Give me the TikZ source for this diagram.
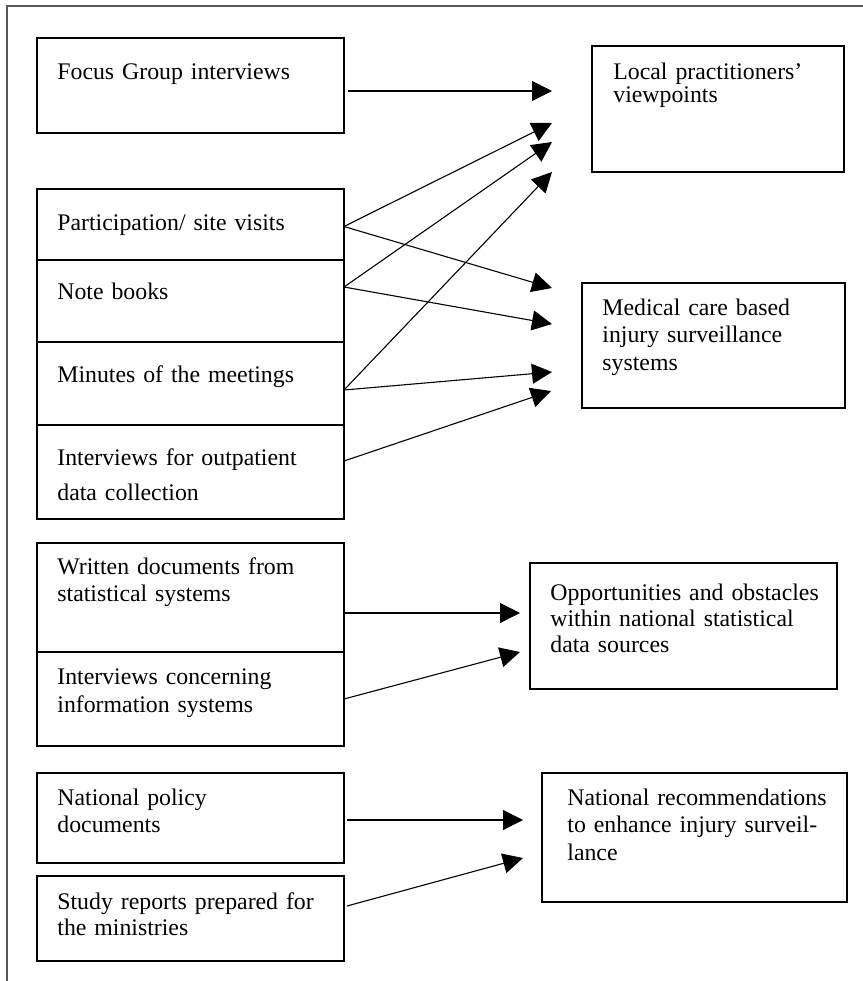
\documentclass[tikz,border=0pt]{standalone}
\usepackage{fontspec}
\setmainfont{Liberation Serif}
\usetikzlibrary{arrows.meta}

\tikzset{
  box/.style={draw, line width=0.65pt, rectangle, inner sep=0pt, outer sep=0pt, anchor=north west},
  txt/.style={anchor=base west, inner sep=0pt, align=left, text width=160pt},
  conn/.style={line width=0.55pt, -{Triangle[length=10pt,width=10pt]}},
  frame/.style={line width=0.6pt, black!65}
}
\newcommand{\lsp}[1]{\fontsize{11.9}{#1}\selectfont}

\begin{document}
\begin{tikzpicture}[x=0.5pt, y=-0.5pt]
\useasboundingbox (0,0) rectangle (863,981);

% page frame (top and left rules)
\draw[frame] (7,981) -- (7,6) -- (863,6);

% source boxes, left column
\node[box, minimum width=153.5pt, minimum height=47.5pt] (focus)   at (37,38)  {};
\node[box, minimum width=153.5pt, minimum height=35.5pt] (part)    at (37,189) {};
\node[box, minimum width=153.5pt, minimum height=41pt]   (notes)   at (37,260) {};
\node[box, minimum width=153.5pt, minimum height=41.5pt] (minutes) at (37,342) {};
\node[box, minimum width=153.5pt, minimum height=47pt]   (outpat)  at (37,425) {};
\node[box, minimum width=153.5pt, minimum height=54.5pt] (written) at (37,543) {};
\node[box, minimum width=153.5pt, minimum height=47pt]   (infosys) at (37,652) {};
\node[box, minimum width=153.5pt, minimum height=45pt]   (policy)  at (37,773) {};
\node[box, minimum width=153.5pt, minimum height=42.5pt] (study)   at (37,876) {};

% outcome boxes, right column
\node[box, minimum width=126pt,   minimum height=63pt]   (local)   at (592,46)  {};
\node[box, minimum width=131.5pt, minimum height=62.5pt] (medical) at (582,283) {};
\node[box, minimum width=153.5pt, minimum height=63pt]   (opps)    at (530,563) {};
\node[box, minimum width=152.5pt, minimum height=64.5pt] (natrec)  at (542,773) {};

% labels
\node[txt, font=\lsp{14}]   (focus-t)   at (57,79)  {Focus Group interviews};
\node[txt, font=\lsp{14}]   (part-t)    at (57,230) {Participation/ site visits};
\node[txt, font=\lsp{14}]   (notes-t)   at (57,299) {Note books};
\node[txt, font=\lsp{14}]   (minutes-t) at (57,382) {Minutes of the meetings};
\node[txt, font=\lsp{17.5}] (outpat-t)  at (57,465) {Interviews for outpatient\\data collection};
\node[txt, font=\lsp{13.5}] (written-t) at (57,574) {Written documents from\\statistical systems};
\node[txt, font=\lsp{14}]   (infosys-t) at (57,684) {Interviews concerning\\information systems};
\node[txt, font=\lsp{13.5}] (policy-t)  at (57,805) {National policy\\documents};
\node[txt, font=\lsp{13}]   (study-t)   at (57,909) {Study reports prepared for\\the ministries};

\node[txt, font=\lsp{11.5}]  (local-t)   at (613,79)  {Local practitioners'\\viewpoints};
\node[txt, font=\lsp{13.75}] (medical-t) at (602,315) {Medical care based\\injury surveillance\\systems};
\node[txt, font=\lsp{13}]    (opps-t)    at (550,600) {Opportunities and obstacles\\within national statistical\\data sources};
\node[txt, font=\lsp{13.75}] (natrec-t)  at (567,805) {National recommendations\\to enhance injury surveil-\\lance};

% arrow tips (free ends)
\coordinate (tL1) at (552,91);
\coordinate (tL2) at (552,123);
\coordinate (tL3) at (552,142);
\coordinate (tL4) at (552,172);
\coordinate (tM1) at (552,288);
\coordinate (tM2) at (552,324);
\coordinate (tM3) at (552,372);
\coordinate (tM4) at (551,391);
\coordinate (tO1) at (520,613);
\coordinate (tO2) at (520,652);
\coordinate (tN1) at (523,820);
\coordinate (tN2) at (523,858);

% connectors
\draw[conn] ([xshift=2pt,yshift=-2.75pt]focus.east) -- (tL1);
\draw[conn] ([yshift=-1pt]part.east) -- (tL2);
\draw[conn] ([yshift=7pt]notes.east) -- (tL3);
\draw[conn] ([yshift=-3.25pt]minutes.east) -- (tL4);
\draw[conn] ([yshift=-1pt]part.east) -- (tM1);
\draw[conn] ([yshift=7pt]notes.east) -- (tM2);
\draw[conn] ([yshift=-3.25pt]minutes.east) -- (tM3);
\draw[conn] ([yshift=5.5pt]outpat.east) -- (tM4);
\draw[conn] ([yshift=-7.75pt]written.east) -- (tO1);
\draw[conn] (infosys.east) -- (tO2);
\draw[conn] ([xshift=1.5pt,yshift=-1pt]policy.east) -- (tN1);
\draw[conn] ([xshift=1.5pt,yshift=6.25pt]study.east) -- (tN2);
\end{tikzpicture}
\end{document}
